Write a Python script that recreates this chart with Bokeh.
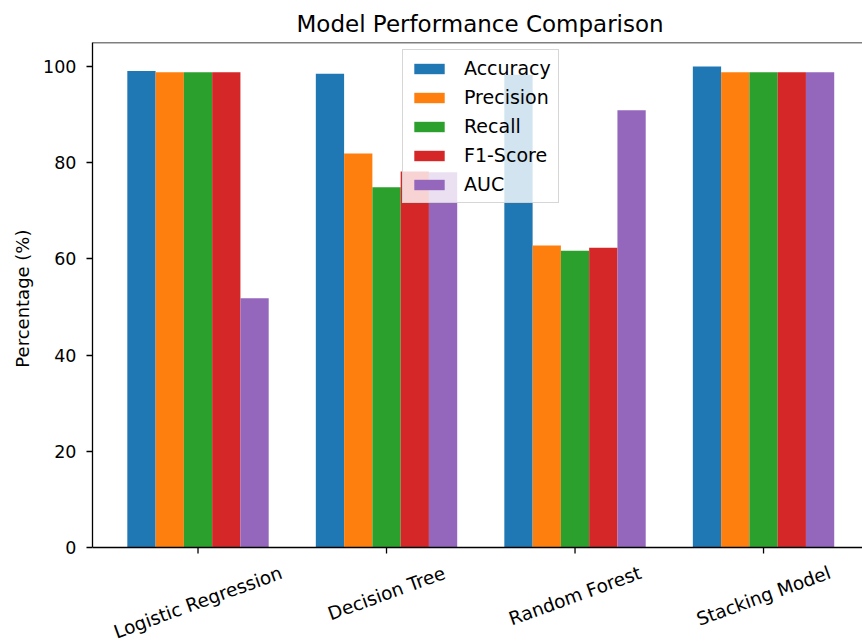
import math
from bokeh.plotting import figure
from bokeh.models import ColumnDataSource, Span, FixedTicker, Legend, LegendItem, Title
from bokeh.core.properties import value
from bokeh.transform import dodge
from bokeh.embed import file_html
from bokeh.resources import INLINE

models = ["Logistic Regression", "Decision Tree", "Random Forest", "Stacking Model"]
metrics = ["Accuracy", "Precision", "Recall", "F1-Score", "AUC"]
accuracy = [99.1, 98.5, 98.3, 100.0]
precision = [98.8, 81.9, 62.8, 98.8]
recall = [98.8, 74.9, 61.7, 98.8]
f1_score = [98.8, 78.2, 62.3, 98.8]
auc = [51.8, 78.0, 90.9, 98.8]
y_ticks = [0, 20, 40, 60, 80, 100]
colors = ["#1f77b4", "#ff7f0e", "#2ca02c", "#d62728", "#9467bd"]

idx = list(range(len(models)))
src = ColumnDataSource(dict(idx=idx, zero=[0] * len(idx), Accuracy=accuracy, Precision=precision,
                            Recall=recall, F1=f1_score, AUC=auc))
cols = ["Accuracy", "Precision", "Recall", "F1", "AUC"]

FONT = "DejaVu Sans"
bar_w = 0.15

# axes box of 770 x 505 px; the frame extends below the x axis so the
# rotated category labels can be centred like matplotlib's
Y_TOP = 105
AX_H = 505
PX_PER_UNIT = AX_H / Y_TOP
FRAME_H = 600
y_start = Y_TOP - FRAME_H / PX_PER_UNIT

p = figure(frame_width=770, frame_height=FRAME_H, x_range=(-0.5597, 3.525),
           y_range=(y_start, Y_TOP), x_axis_location=None,
           output_backend="svg", toolbar_location=None,
           min_border_left=92, min_border_right=0, min_border_top=42, min_border_bottom=0)
p.outline_line_color = None
p.grid.visible = False
p.background_fill_color = "white"
p.border_fill_color = "white"

p.title = Title(text="Model Performance Comparison", text_font=FONT, text_font_size="23px",
                text_font_style="normal", text_color="black", align="left",
                offset=204, standoff=12)

# x ticks (drawn before bars)
p.rect(x="idx", y="zero", width=1.3, height=12, width_units="screen", height_units="screen",
       source=src, fill_color="black", line_color=None)

items = []
n = len(cols)
for i, (c, lab, col) in enumerate(zip(cols, metrics, colors)):
    r = p.vbar(x=dodge("idx", (i - (n - 1) / 2) * bar_w), top=c, bottom=0, width=bar_w,
               source=src, fill_color=col, line_color=None)
    items.append(LegendItem(label=lab, renderers=[r]))

p.add_layout(Span(location=Y_TOP, dimension="width", line_color="black", line_width=1.3))
p.add_layout(Span(location=0, dimension="width", line_color="black", line_width=1.3))

# rotated, centred category labels (rotation=20, ha=center)
DV = {"L": .557, "o": .612, "g": .635, "i": .278, "s": .521, "t": .392, "c": .550,
      " ": .318, "R": .695, "e": .615, "r": .411, "n": .634, "D": .770, "T": .611,
      "a": .613, "d": .635, "m": .974, "F": .575, "S": .635, "k": .579, "M": .863,
      "l": .278}
lab_px = 18.5
ang = math.radians(20)
line_h = 1.164 * lab_px
lab_y = []
for m in models:
    w = sum(DV.get(ch, 0.6) for ch in m) * lab_px
    bbox_h = w * math.sin(ang) + line_h * math.cos(ang)
    lab_y.append(-(14 + bbox_h / 2) / PX_PER_UNIT)
lab_src = ColumnDataSource(dict(x=idx, y=lab_y, text=models))
p.text(x="x", y="y", text="text", source=lab_src, angle=20, angle_units="deg",
       text_align="center", text_baseline="middle", text_font=value(FONT),
       text_font_size=f"{lab_px}px", text_color="black")

ya = p.yaxis[0]
ya.ticker = FixedTicker(ticks=y_ticks)
ya.bounds = (0, Y_TOP)
ya.major_label_text_font = FONT
ya.major_label_text_font_size = "17.5px"
ya.major_label_text_color = "black"
ya.major_tick_out = 6
ya.major_tick_in = 0
ya.minor_tick_out = 0
ya.minor_tick_in = 0
ya.axis_line_color = "black"
ya.axis_line_width = 1.3
ya.major_tick_line_width = 1.3
ya.major_label_standoff = 10

# y-axis title, centred on the axes box (not on the extended frame)
ylab = Title(text="Percentage (%)", text_font=FONT, text_font_size="18px",
             text_font_style="normal", text_color="black", align="right",
             offset=187, standoff=15)
p.add_layout(ylab, "left")

legend = Legend(items=items, location=(310, FRAME_H - AX_H + 344))
legend.label_text_font = FONT
legend.label_text_font_size = "19px"
legend.label_text_color = "black"
legend.glyph_width = 38
legend.glyph_height = 13
legend.label_standoff = 16
legend.label_height = 20
legend.spacing = 7
legend.padding = 7
legend.margin = 0
legend.background_fill_alpha = 0.8
legend.border_line_color = "#cccccc"
legend.border_line_alpha = 0.8
legend.border_line_width = 1
p.add_layout(legend, "center")

open("out.html", "w").write(file_html(p, INLINE))
